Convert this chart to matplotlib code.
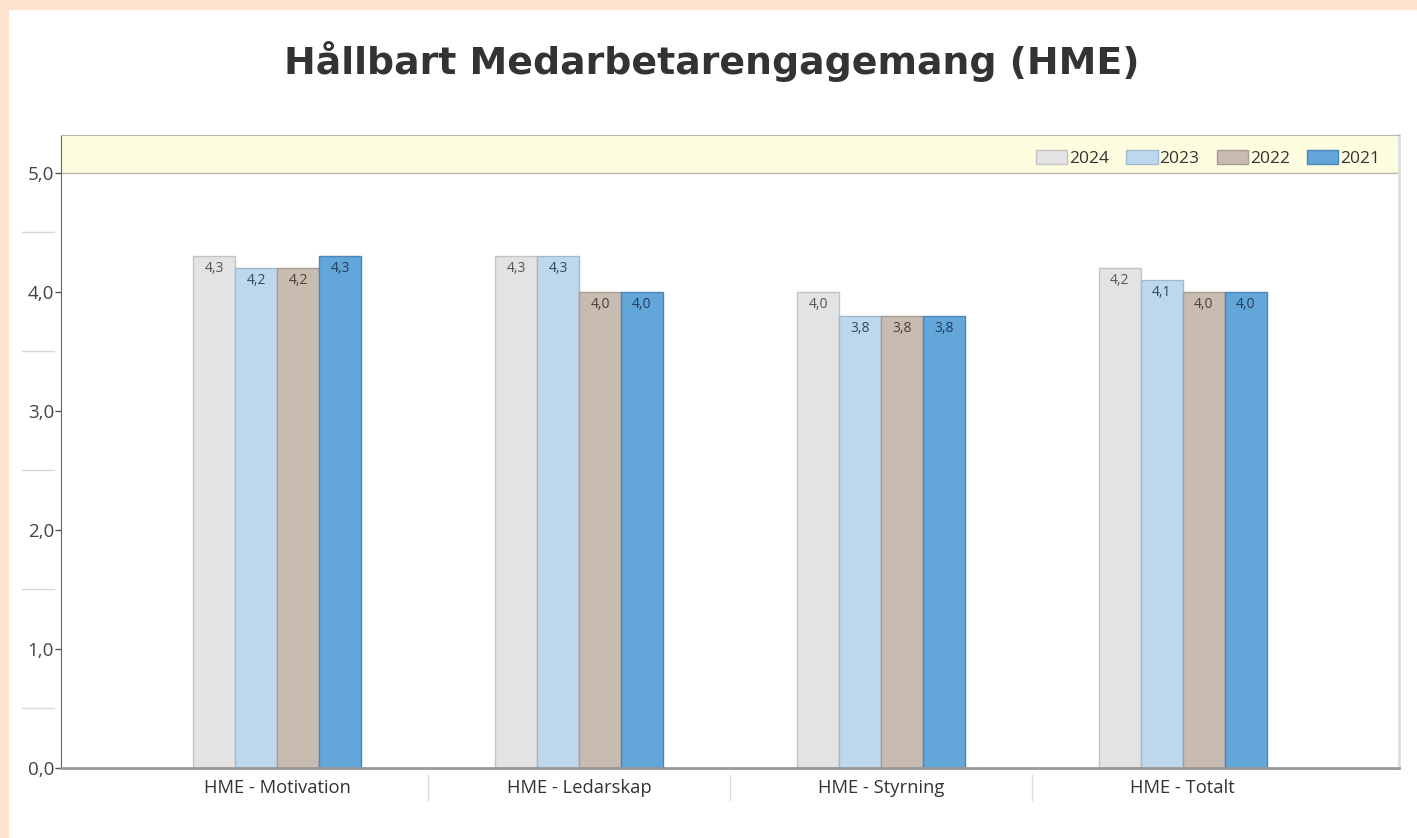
import matplotlib.pyplot as plt
import matplotlib.transforms as mtransforms
import numpy as np

categories = ["HME - Motivation", "HME - Ledarskap", "HME - Styrning", "HME - Totalt"]
years = ["2024", "2023", "2022", "2021"]
values = {
    "2024": [4.3, 4.3, 4.0, 4.2],
    "2023": [4.2, 4.3, 3.8, 4.1],
    "2022": [4.2, 4.0, 3.8, 4.0],
    "2021": [4.3, 4.0, 3.8, 4.0],
}
face_colors = ["#e3e3e3", "#bdd8ed", "#c8bbaf", "#62a6da"]
edge_colors = ["#c4c4c4", "#9fb9cf", "#a89c90", "#4a86b8"]
text_colors = ["#555555", "#2d4a66", "#4a4036", "#1f3f60"]

plt.rcParams['font.family'] = ['Open Sans', 'DejaVu Sans']

fig = plt.figure(figsize=(14.17, 8.38), dpi=100)
fig.patch.set_facecolor("#fde3d0")
# white panel
fig.patches.append(plt.Rectangle((9 / 1417, 0), 1, 1 - 10 / 838, transform=fig.transFigure,
                                 facecolor="white", edgecolor="none", zorder=-5))

fig.text(0.502, 1 - 62 / 838, "Hållbart Medarbetarengagemang (HME)", ha="center", va="center",
         fontsize=27.3, fontweight="bold", color="#333333", family="DejaVu Sans")

ax = fig.add_axes([61 / 1417, 1 - 768 / 838, (1399 - 61) / 1417, (768 - 135) / 838])
ax.set_facecolor("white")

x = np.arange(len(categories))
width = 0.139
for i, yr in enumerate(years):
    offs = (i - 1.5) * width
    bars = ax.bar(x + offs, values[yr], width, color=face_colors[i], edgecolor=edge_colors[i],
                  linewidth=1, label=yr, zorder=2)
    for b, v in zip(bars, values[yr]):
        ax.text(b.get_x() + b.get_width() / 2, v - 0.105, f"{v:.1f}".replace(".", ","),
                ha="center", va="center", fontsize=10, color=text_colors[i], zorder=3)

ax.set_xlim(-0.716, 3.716)
ax.set_ylim(0, 5.319)

# legend band
ax.axhspan(5.0, 5.319, facecolor="#fefde0", edgecolor="none", zorder=1)
ax.axhline(5.0, color="#b8b8a8", linewidth=1, zorder=1)

ax.set_yticks([0, 1, 2, 3, 4, 5])
ax.set_yticklabels([f"{t:.1f}".replace(".", ",") for t in [0, 1, 2, 3, 4, 5]])
ax.tick_params(axis="y", length=4, width=1, color="#555555", labelsize=13.5, labelcolor="#444444", pad=1)
ax.set_xticks(x)
ax.set_xticklabels(categories)
ax.tick_params(axis="x", length=0, labelsize=13.2, labelcolor="#333333", pad=8)

# short marks at half steps
trans = mtransforms.blended_transform_factory(ax.transAxes, ax.transData)
for yv in [0.5, 1.5, 2.5, 3.5, 4.5]:
    ax.plot([-0.029, -0.005], [yv, yv], transform=trans, color="#d8d8d8", linewidth=1, clip_on=False)

# dividers between categories
trans2 = mtransforms.blended_transform_factory(ax.transData, ax.transAxes)
for xv in [0.5, 1.5, 2.5]:
    ax.plot([xv, xv], [-0.011, -0.05], transform=trans2, color="#dddddd", linewidth=1, clip_on=False)

ax.spines["left"].set_color("#666666")
ax.spines["bottom"].set_color("#999999")
ax.spines["bottom"].set_linewidth(2)
ax.spines["right"].set_color("#dddddd")
ax.spines["right"].set_linewidth(2)
ax.spines["top"].set_color("#b8b8a8")

ax.legend(loc="upper right", bbox_to_anchor=(0.995, 0.995), ncol=4, frameon=False, fontsize=12.5,
          handlelength=1.8, handleheight=0.8, handletextpad=0.1, columnspacing=1.0,
          labelcolor="#333333", borderaxespad=0.3)

fig.savefig("out.png", dpi=100, facecolor=fig.get_facecolor())
